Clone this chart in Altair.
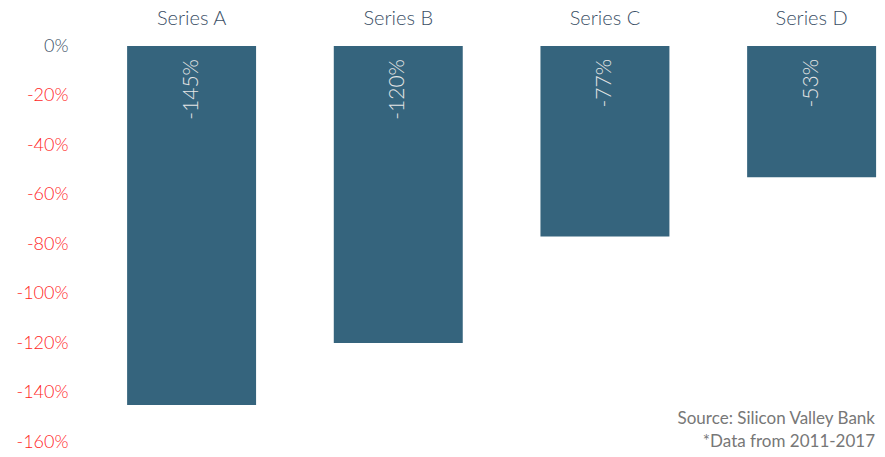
import altair as alt
import pandas as pd

categories = ["Series A", "Series B", "Series C", "Series D"]
values = [-145, -120, -77, -53]
labels = ["-145%", "-120%", "-77%", "-53%"]
notes = ["Source: Silicon Valley Bank", "*Data from 2011-2017"]

df = pd.DataFrame({"series": categories, "value": values, "label": labels})
notes_df = pd.DataFrame({"note": notes, "pos": [373, 396]})

FONT = "Lato"
W, H = 758, 396

xscale = alt.Scale(paddingInner=0.376, paddingOuter=0.0218, align=0.9)
yscale = alt.Scale(domain=[-160, 0], nice=False)

bars = alt.Chart(df).mark_bar(color="#35647d").encode(
    x=alt.X("series:N", scale=xscale, sort=categories,
            axis=alt.Axis(orient="top", title=None, domain=False, ticks=False,
                          labelAngle=0, labelFont=FONT, labelFontSize=20,
                          labelFontWeight=300, labelColor="#3b4f66", labelPadding=18)),
    y=alt.Y("value:Q", scale=yscale,
            axis=alt.Axis(title=None, domain=False, ticks=False, grid=False,
                          values=[0, -20, -40, -60, -80, -100, -120, -140, -160],
                          labelExpr="datum.value + '%'", labelFont=FONT,
                          labelFontSize=18, labelFontWeight=300,
                          labelColor=alt.expr("datum.value == 0 ? '#3b4f66' : '#ff1f1f'"),
                          labelPadding=51)),
)

text = alt.Chart(df).mark_text(angle=270, align="right", baseline="middle",
                               font=FONT, fontSize=21, fontWeight=300,
                               color="#e6e6e6").encode(
    x=alt.X("series:N", scale=xscale, sort=categories),
    y=alt.value(13),
    text="label:N",
)

note = alt.Chart(notes_df).mark_text(align="right", baseline="middle", font=FONT,
                                     fontSize=17, color="#777777").encode(
    x=alt.value(756),
    y=alt.Y("pos:Q", scale=None),
    text="note:N",
)

chart = alt.layer(bars, text, note).properties(
    width=W, height=H,
    autosize=alt.AutoSizeParams(type="none"),
    padding={"left": 111, "top": 38, "right": 0, "bottom": 7},
).configure_view(stroke=None)

chart.save("out.html", embed_options={"renderer": "svg", "actions": False})
